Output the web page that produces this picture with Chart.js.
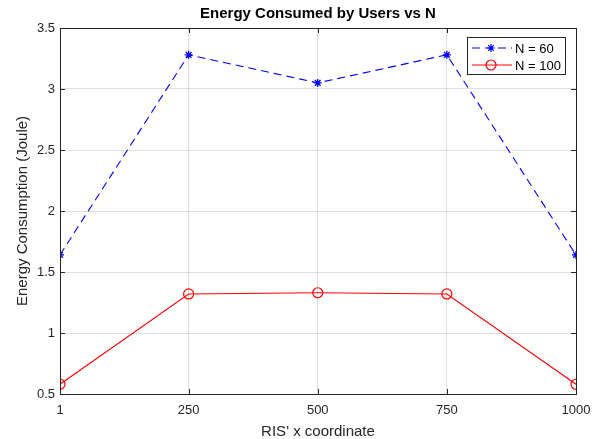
<!DOCTYPE html>
<html>
<head>
<meta charset="utf-8">
<script src="https://cdn.jsdelivr.net/npm/chart.js@4.4.0/dist/chart.umd.min.js"></script>
<style>
  html, body { margin: 0; padding: 0; background: #fff; }
  #wrap { width: 606px; height: 439px; }
</style>
</head>
<body>
<div id="wrap"><canvas id="myChart" width="606" height="439"></canvas></div>
<script>
var chartTitle = 'Energy Consumed by Users vs N';
var xLabel = "RIS' x coordinate";
var yLabel = 'Energy Consumption (Joule)';
var xCoords = [1, 250, 500, 750, 1000];
var xTicks = [1, 250, 500, 750, 1000];
var yTicks = [0.5, 1, 1.5, 2, 2.5, 3, 3.5];
var seriesNames = ['N = 60', 'N = 100'];
var n60 = [1.64, 3.28, 3.05, 3.28, 1.64];
var n100 = [0.58, 1.32, 1.33, 1.32, 0.58];

var axisColor = '#262626';
var fontFam = '"Liberation Sans", Arial, sans-serif';

function toPoints(xs, ys) {
    var pts = [];
    for (var i = 0; i < xs.length; i++) pts.push({x: xs[i], y: ys[i]});
    return pts;
}

// box, inward ticks, title and legend in MATLAB style
var matlabDecor = {
    id: 'matlabDecor',
    afterDraw: function (chart) {
        var ctx = chart.ctx;
        var a = chart.chartArea;
        var xs = chart.scales.x, ys = chart.scales.y;
        ctx.save();
        ctx.strokeStyle = axisColor;
        ctx.lineWidth = 1;
        ctx.strokeRect(Math.round(a.left) + 0.5, Math.round(a.top) + 0.5,
            Math.round(a.right - a.left), Math.round(a.bottom - a.top));
        ctx.beginPath();
        xTicks.forEach(function (v) {
            var px = Math.round(xs.getPixelForValue(v)) + 0.5;
            ctx.moveTo(px, a.bottom); ctx.lineTo(px, a.bottom - 5);
            ctx.moveTo(px, a.top); ctx.lineTo(px, a.top + 5);
        });
        yTicks.forEach(function (v) {
            var py = Math.round(ys.getPixelForValue(v)) + 0.5;
            ctx.moveTo(a.left, py); ctx.lineTo(a.left + 5, py);
            ctx.moveTo(a.right, py); ctx.lineTo(a.right - 5, py);
        });
        ctx.stroke();

        // title
        ctx.fillStyle = '#000';
        ctx.font = 'bold 15px ' + fontFam;
        ctx.textAlign = 'center';
        ctx.textBaseline = 'middle';
        ctx.fillText(chartTitle, (a.left + a.right) / 2, 14);

        // legend
        var lx = 467, ly = 37, lw = 98, lh = 37;
        ctx.fillStyle = '#fff';
        ctx.fillRect(lx, ly, lw, lh);
        ctx.strokeStyle = axisColor;
        ctx.strokeRect(lx + 0.5, ly + 0.5, lw, lh);
        ctx.font = '13px ' + fontFam;
        ctx.textAlign = 'left';
        chart.data.datasets.forEach(function (ds, i) {
            var cy = ly + 11 + i * 17;
            ctx.strokeStyle = ds.borderColor;
            ctx.fillStyle = 'rgba(0,0,0,0)';
            ctx.lineWidth = 1;
            ctx.setLineDash(ds.borderDash || []);
            ctx.beginPath();
            ctx.moveTo(lx + 5, cy); ctx.lineTo(lx + 45, cy);
            ctx.stroke();
            ctx.setLineDash([]);
            ctx.lineWidth = 1.2;
            Chart.helpers.drawPoint(ctx, {
                pointStyle: ds.pointStyle, radius: ds.pointRadius,
                borderWidth: 1.2
            }, lx + 24, cy);
            ctx.fillStyle = '#000';
            ctx.fillText(ds.label, lx + 48, cy + 1);
        });
        ctx.restore();
    }
};

function createChart() {
    var ctx = document.getElementById('myChart').getContext('2d');
    var myChart = new Chart(ctx, {
        type: 'line',
        data: {
            datasets: [{
                label: seriesNames[0],
                data: toPoints(xCoords, n60),
                borderColor: '#0000ff',
                backgroundColor: 'rgba(0,0,0,0)',
                borderWidth: 1.1,
                borderDash: [8, 5],
                pointStyle: 'star',
                pointRadius: 4,
                pointBorderColor: '#0000ff',
                pointBorderWidth: 1.3,
                tension: 0
            }, {
                label: seriesNames[1],
                data: toPoints(xCoords, n100),
                borderColor: '#ff0000',
                backgroundColor: 'rgba(0,0,0,0)',
                borderWidth: 1.1,
                pointStyle: 'circle',
                pointRadius: 5,
                pointBorderColor: '#ff0000',
                pointBackgroundColor: 'rgba(0,0,0,0)',
                pointBorderWidth: 1.2,
                tension: 0
            }]
        },
        options: {
            responsive: false,
            animation: false,
            layout: { padding: { top: 28, right: 30, left: 0, bottom: 0 } },
            plugins: { legend: { display: false }, tooltip: { enabled: false } },
            scales: {
                x: {
                    type: 'linear', min: 1, max: 1000,
                    afterBuildTicks: function (s) {
                        s.ticks = xTicks.map(function (v) { return {value: v}; });
                    },
                    afterFit: function (s) { s.height = 45; },
                    grid: { color: 'rgba(38,38,38,0.15)', drawTicks: false },
                    border: { display: false },
                    ticks: {
                        color: axisColor, font: { family: fontFam, size: 13 }, padding: 9, maxRotation: 0,
                        callback: function (v) { return String(v); }
                    },
                    title: { display: true, text: xLabel, color: axisColor, font: { family: fontFam, size: 15 }, padding: { top: 0, bottom: -2 } }
                },
                y: {
                    min: 0.5, max: 3.5,
                    afterBuildTicks: function (s) {
                        s.ticks = yTicks.map(function (v) { return {value: v}; });
                    },
                    afterFit: function (s) { s.width = 60; },
                    grid: { color: 'rgba(38,38,38,0.15)', drawTicks: false },
                    border: { display: false },
                    ticks: {
                        color: axisColor, font: { family: fontFam, size: 13 }, padding: 5,
                        callback: function (v) { return String(v); }
                    },
                    title: { display: true, text: yLabel, color: axisColor, font: { family: fontFam, size: 15 }, padding: { top: 14, bottom: 0 } }
                }
            }
        },
        plugins: [matlabDecor]
    });
}
createChart();
</script>
</body>
</html>
